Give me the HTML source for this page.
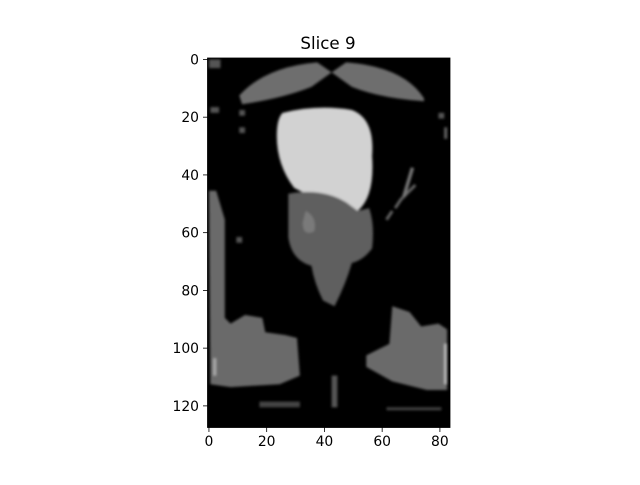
<!DOCTYPE html>
<html><head><meta charset="utf-8"><style>
body{margin:0;background:#fff;font-family:"Liberation Sans","DejaVu Sans",sans-serif}
svg text{font-family:"DejaVu Sans","Liberation Sans",sans-serif;font-size:13.9px;fill:#000}
</style></head><body>
<svg width="640" height="480">
<rect width="640" height="480" fill="#fff"/>
<text x="328" y="49" text-anchor="middle" style="font-size:16.7px">Slice 9</text>
<defs><filter id="b"><feGaussianBlur stdDeviation="0.5"/></filter><clipPath id="c"><rect x="0" y="0" width="84" height="128"/></clipPath></defs>
<g transform="translate(207.5,58) scale(2.887)">
<rect width="84" height="128" fill="#000"/>
<g clip-path="url(#c)" filter="url(#b)">
<path d="M11,13 Q20,3 38,1.5 L43,5 L48,1.5 Q68,3 75,14 L75,15 Q60,14 50,10 L43,5 L36,10 Q26,14 12,16 Z" fill="#6e6e6e"/>
<rect x="0.5" y="0.5" width="4" height="3" fill="#555"/>
<path d="M26,19 Q38,16 50,18 Q58,21 57,34 Q58,48 52,53 L48,50 Q40,46 34,47 L30,45 Q24,37 24,27 Q24,21 26,19 Z" fill="#d2d2d2"/>
<path d="M28,47 Q40,45 48,50 L52,53 L56,52 Q58,58 57,66 Q54,70 50,71 Q48,78 44,86 L40,84 Q37,78 36,72 Q29,70 28,62 Z" fill="#5e5e5e"/>
<path d="M34,53 Q38,55 37,60 Q33,62 33,57 Z" fill="#7a7a7a"/>
<path d="M0.5,46 L3,46 L6,56 L6,90 L8,92 L13,89 L19,90 L20,95 L27,96 L31,97 L32,110 L25,113 L8,114 L1,113 Z" fill="#6a6a6a"/>
<path d="M64,86 L70,88 L74,93 L80,92 L83,94 L83,115 L76,115 L64,112 L55,107 L55,103 L63,99 Z" fill="#6a6a6a"/>
<path d="M62,56 L64,53 M72,44 L67,49 L65,52" stroke="#666" stroke-width="1" fill="none"/>
<path d="M71,38 L68,48" stroke="#777" stroke-width="1.2"/>
<rect x="43" y="110" width="2" height="11" fill="#555"/>
<rect x="18" y="119" width="14" height="2" fill="#444"/>
<rect x="62" y="121" width="19" height="1" fill="#444"/>
<rect x="1" y="17" width="3" height="2" fill="#555"/>
<rect x="11" y="18" width="2" height="2" fill="#555"/>
<rect x="11" y="24" width="2" height="2" fill="#555"/>
<rect x="10" y="62" width="2" height="2" fill="#555"/>
<rect x="80" y="19" width="2" height="2" fill="#555"/>
<rect x="82" y="24" width="1" height="4" fill="#666"/>
<rect x="82" y="99" width="1" height="14" fill="#bbb"/>
<rect x="2" y="104" width="1" height="6" fill="#aaa"/>
</g></g>
<rect x="207.5" y="58" width="242.5" height="369.5" fill="none" stroke="#000" stroke-width="0.8"/>
<g id="ticks"></g>
</svg>
<script>
const xTicks=[0,20,40,60,80];
const yTicks=[0,20,40,60,80,100,120];
const ox=207.5, oy=58, s=2.887;
const ns="http://www.w3.org/2000/svg", g=document.getElementById('ticks');
function X(v){return ox+(v+0.5)*s;}
function Y(v){return oy+(v+0.5)*s;}
xTicks.forEach(v=>{
 const l=document.createElementNS(ns,'line');
 l.setAttribute('x1',X(v));l.setAttribute('x2',X(v));l.setAttribute('y1',427.5);l.setAttribute('y2',432);l.setAttribute('stroke','#000');l.setAttribute('stroke-width','0.8');
 
 
 g.appendChild(l);
 const t=document.createElementNS(ns,'text');
 t.setAttribute('x',X(v));t.setAttribute('y',446);t.setAttribute('text-anchor','middle');t.textContent=v;
 
 
 g.appendChild(t);
});
yTicks.forEach(v=>{
 const l=document.createElementNS(ns,'line');
 l.setAttribute('x1',203);l.setAttribute('x2',207.5);l.setAttribute('y1',Y(v));l.setAttribute('y2',Y(v));l.setAttribute('stroke','#000');l.setAttribute('stroke-width','0.8');
 
 
 g.appendChild(l);
 const t=document.createElementNS(ns,'text');
 t.setAttribute('x',199);t.setAttribute('y',Y(v)+5);t.setAttribute('text-anchor','end');t.textContent=v;
 
 
 g.appendChild(t);
});
</script>
</body></html>
